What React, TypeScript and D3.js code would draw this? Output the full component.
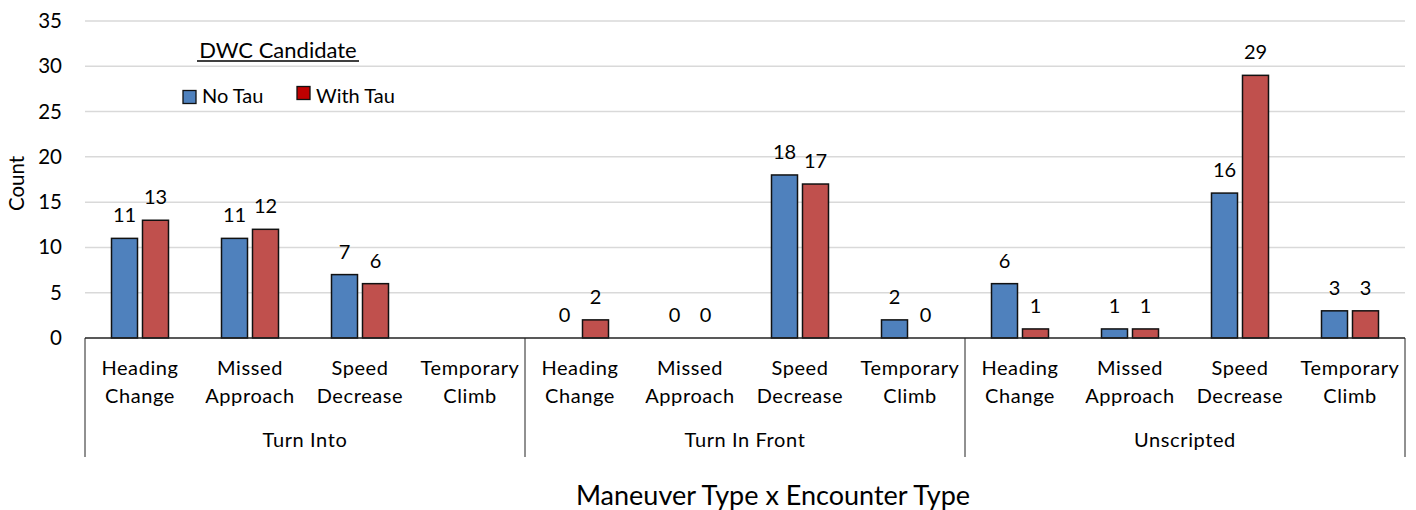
import * as d3 from 'd3';

// encounter groups and maneuver types
const encounters = ['Turn Into', 'Turn In Front', 'Unscripted'];
const maneuvers = [['Heading', 'Change'], ['Missed', 'Approach'], ['Speed', 'Decrease'], ['Temporary', 'Climb']];
const seriesNames = ['No Tau', 'With Tau'];

// counts per encounter, in maneuver order (null = no data)
const noTau: (number | null)[] = [11, 11, 7, null, 0, 0, 18, 2, 6, 1, 16, 3];
const withTau: (number | null)[] = [13, 12, 6, null, 2, 0, 17, 0, 1, 1, 29, 3];
const yTicks = [0, 5, 10, 15, 20, 25, 30, 35];

const W = 1416;
const H = 510;
const left = 85;
const right = 1405;
const top = 21;
const bottom = 338;
const font = 'Lato, "Noto Sans", sans-serif';
const barColors = ['#4F81BD', '#C0504D'];
const legendColors = ['#4F81BD', '#C00000'];

export default function App() {
  const slots = d3.range(encounters.length * maneuvers.length).map(String);
  const x = d3.scaleBand<string>().domain(slots).range([left, right]).paddingInner(0).paddingOuter(0);
  const groupX = d3.scaleBand<string>().domain(encounters).range([left, right]);
  const y = d3.scaleLinear().domain([0, 35]).range([bottom, top]);

  const barW = 26;
  const gap = 5;
  const offsets = [-(barW + gap) / 2, (barW + gap) / 2];
  const series = [noTau, withTau];
  const fs = 20;

  return (
    <svg width={W} height={H} style={{ position: 'absolute', left: 0, top: 0, background: '#fff' }} fontFamily={font}>
      {/* gridlines */}
      {yTicks.slice(1).map((t) => (
        <line key={t} x1={left} x2={right} y1={y(t)} y2={y(t)} stroke="#D9D9D9" strokeWidth={1.5} />
      ))}
      {/* y tick labels */}
      {yTicks.map((t) => (
        <text key={t} x={62} y={y(t) + 7} textAnchor="end" fontSize={20.5} fill="#000">
          {t}
        </text>
      ))}
      <text transform={`translate(24,${(top + bottom) / 2 + 4}) rotate(-90)`} textAnchor="middle" fontSize={20.5}>
        Count
      </text>

      {/* bars */}
      {series.map((vals, si) =>
        vals.map((v, i) => {
          if (v === null) return null;
          const cx = (x(String(i)) as number) + x.bandwidth() / 2 + offsets[si];
          return (
            <g key={`${si}-${i}`}>
              {v > 0 && (
                <rect
                  x={cx - barW / 2}
                  y={y(v)}
                  width={barW}
                  height={y(0) - y(v)}
                  fill={barColors[si]}
                  stroke="#111"
                  strokeWidth={1.5}
                />
              )}
              <text x={cx} y={y(v) - 16} textAnchor="middle" fontSize={fs}>
                {v}
              </text>
            </g>
          );
        })
      )}

      {/* baseline */}
      <line x1={left} x2={right} y1={bottom} y2={bottom} stroke="#222" strokeWidth={1.5} />

      {/* category labels */}
      {slots.map((s, i) => {
        const m = maneuvers[i % maneuvers.length];
        const cx = (x(s) as number) + x.bandwidth() / 2;
        return (
          <text key={s} x={cx} textAnchor="middle" fontSize={fs} letterSpacing={0.6}>
            <tspan x={cx} y={375}>{m[0]}</tspan>
            <tspan x={cx} y={403}>{m[1]}</tspan>
          </text>
        );
      })}
      {encounters.map((e) => (
        <text key={e} x={(groupX(e) as number) + groupX.bandwidth() / 2} y={447} textAnchor="middle" fontSize={fs} letterSpacing={0.6}>
          {e}
        </text>
      ))}
      {[...encounters.map((e) => groupX(e) as number), right].map((gx, i) => (
        <line key={i} x1={gx} x2={gx} y1={bottom} y2={457} stroke="#222" strokeWidth={1} />
      ))}

      <text x={773} y={505} textAnchor="middle" fontSize={27}>
        Maneuver Type x Encounter Type
      </text>

      {/* legend */}
      <text x={278} y={58} textAnchor="middle" fontSize={22}>
        DWC Candidate
      </text>
      <line x1={197} x2={359} y1={61} y2={61} stroke="#000" strokeWidth={1.3} />
      {seriesNames.map((n, i) => {
        const lx = [183, 297][i];
        const ly = [90.5, 86.5][i];
        return (
          <g key={n}>
            <rect x={lx} y={ly} width={13} height={13} fill={legendColors[i]} stroke="#111" strokeWidth={1.3} />
            <text x={lx + 19} y={103} fontSize={fs}>
              {n}
            </text>
          </g>
        );
      })}
    </svg>
  );
}
